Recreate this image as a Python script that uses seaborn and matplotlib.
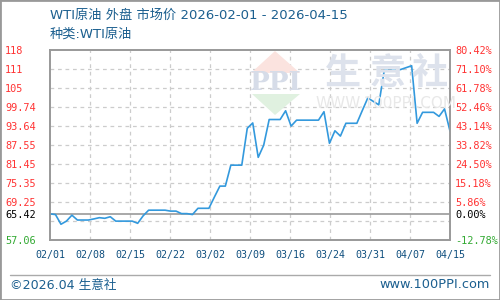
import numpy as np
import pandas as pd
import matplotlib
matplotlib.use("Agg")
import matplotlib.pyplot as plt
import seaborn as sns
from matplotlib.patches import Polygon, Rectangle
from matplotlib.lines import Line2D

# ---------------- data ----------------
days = list(range(74))  # 2026-02-01 .. 2026-04-15
prices = [65.42, 65.2, 62.1, 63.1, 65.0, 63.45, 63.45, 63.45, 63.8, 64.2,
          64.0, 64.5, 63.1, 63.1, 63.1, 63.1, 62.4, 64.8, 66.6, 66.6,
          66.6, 66.6, 66.3, 66.3, 65.5, 65.5, 65.2, 67.2, 67.2, 67.2,
          70.8, 74.3, 74.3, 81.0, 81.0, 81.0, 92.8, 94.5, 83.5, 87.4,
          95.6, 95.6, 95.6, 98.4, 93.5, 95.4, 95.4, 95.4, 95.4, 95.4,
          98.1, 88.0, 92.0, 90.3, 94.4, 94.4, 94.4, 98.5, 102.5, 101.4,
          100.3, 111.3, 111.3, 111.3, 111.6, 112.2, 112.8, 94.4, 97.9, 97.9,
          97.9, 96.6, 99.0, 91.9]
base_price = 65.42
y_min, y_max = 57.06, 118.0
x_tick_labels = ["02/01", "02/08", "02/15", "02/22", "03/02", "03/09",
                 "03/16", "03/24", "03/31", "04/07", "04/15"]
left_labels = ["69.25", "75.35", "81.45", "87.55", "93.64", "99.74", "105", "111", "118"]
right_labels = ["5.86%", "15.18%", "24.50%", "33.82%", "43.14%", "52.46%",
                "61.78%", "71.10%", "80.42%"]
title = "WTI原油 外盘 市场价 2026-02-01 - 2026-04-15"
subtitle = "种类:WTI原油"
footer_left = "©2026.04 生意社"
footer_right = "www.100PPI.com"

# ---------------- style ----------------
sns.set_theme(style="white")
plt.rcParams["font.family"] = ["DejaVu Sans", "Noto Sans CJK SC"]
BLUE_TXT = "#1b5f8f"
RED = "#ff3333"
GREEN = "#33aa33"
FRAME = "#999999"
GRID = "#cccccc"
LINE = "#3399dd"
MONO = ["DejaVu Sans Mono"]

W, H = 500, 300
fig = plt.figure(figsize=(5, 3), dpi=100)
fig.patch.set_facecolor("white")


def fx(px):
    return px / W


def fy(py):
    return 1 - py / H


# watermark (behind axes)
wm_color = "#dde2ec"
fig.patches.append(Polygon([(fx(275), fy(51)), (fx(251), fy(73)), (fx(300), fy(73))],
                           closed=True, transform=fig.transFigure, facecolor="#fbe3df",
                           edgecolor="none", zorder=0))
fig.patches.append(Polygon([(fx(252), fy(94)), (fx(300), fy(94)), (fx(275), fy(115))],
                           closed=True, transform=fig.transFigure, facecolor="#e0f1e0",
                           edgecolor="none", zorder=0))
fig.text(fx(276), fy(83), "PPI", fontsize=19, color="#d6dce8", ha="center", va="center",
         fontweight="bold", family=["DejaVu Serif"], zorder=0)
for cx, ch in zip([343, 388, 430], ["生", "意", "社"]):
    fig.text(fx(cx), fy(73), ch, fontsize=26, color=wm_color, ha="center", va="center",
             family=["Noto Sans CJK SC"], fontweight="bold", zorder=0)
fig.text(fx(386), fy(104), "WWW.100PPI.COM", fontsize=11, color="#e8e8e8",
         ha="center", va="center", zorder=0)

ax = fig.add_axes([fx(50), fy(240), fx(400), (240 - 49.5) / H])
ax.patch.set_alpha(0)

df = pd.DataFrame({"day": days, "price": prices})
sns.lineplot(data=df, x="day", y="price", ax=ax, color=LINE, lw=1.2, zorder=5)

ax.set_xlim(days[0], days[-1])
ax.set_ylim(y_min, y_max)
ax.set_xlabel("")
ax.set_ylabel("")

levels = np.linspace(y_min, y_max, 11)
xt = np.linspace(days[0], days[-1], len(x_tick_labels))

for lv in levels[1:-1]:
    ax.axhline(lv, color=GRID, lw=0.9, ls=(0, (3, 3)), zorder=1)
for xv in xt[1:-1]:
    ax.axvline(xv, color=GRID, lw=0.9, ls=(0, (3, 3)), zorder=1)
ax.axhline(base_price, color=FRAME, lw=1.2, zorder=2)

for s in ax.spines.values():
    s.set_color(FRAME)
    s.set_linewidth(1.2)

ax.set_xticks(xt)
ax.set_xticklabels(x_tick_labels, family=MONO, fontsize=7.2, color="#0f4f7f")
ax.tick_params(axis="x", length=0, pad=7)

ytick_pos = [y_min, base_price] + list(levels[2:])
ax.set_yticks(ytick_pos)
ax.set_yticklabels(["57.06", "65.42"] + left_labels, family=MONO, fontsize=7.4)
ax.tick_params(axis="y", length=0, pad=32.4)
ylabs = ax.get_yticklabels()
for i, t in enumerate(ylabs):
    t.set_horizontalalignment("left")
    t.set_color(GREEN if i == 0 else ("black" if i == 1 else RED))

ax2 = ax.twinx()
ax2.set_ylim(y_min, y_max)
ax2.set_yticks(ytick_pos)
pct_low = f"{(y_min / base_price - 1) * 100:.2f}%"
ax2.set_yticklabels([pct_low, "0.00%"] + right_labels, family=MONO, fontsize=7.4)
ax2.tick_params(axis="y", length=0, pad=3.6)
for i, t in enumerate(ax2.get_yticklabels()):
    t.set_color(GREEN if i == 0 else ("black" if i == 1 else RED))
for s in ax2.spines.values():
    s.set_color(FRAME)
    s.set_linewidth(1.2)
ax2.grid(False)
ax.grid(False)

# titles
fig.text(fx(50), fy(15), title, fontsize=9.5, color=BLUE_TXT, ha="left", va="center")
fig.text(fx(50), fy(34), subtitle, fontsize=9.5, color=BLUE_TXT, ha="left", va="center")

# footer
fig.add_artist(Line2D([fx(10), fx(490)], [fy(275), fy(275)], transform=fig.transFigure,
                      color="#aaaaaa", lw=1))
fig.text(fx(10), fy(285), footer_left, fontsize=9.1, color=BLUE_TXT, ha="left", va="center")
fig.text(fx(490), fy(285), footer_right, fontsize=9.3, color=BLUE_TXT, ha="right", va="center")

# outer border
fig.patches.append(Rectangle((0, 0), 1, 1, transform=fig.transFigure, fill=False,
                             edgecolor=FRAME, lw=2, zorder=10))

fig.savefig("out.png", dpi=100)
